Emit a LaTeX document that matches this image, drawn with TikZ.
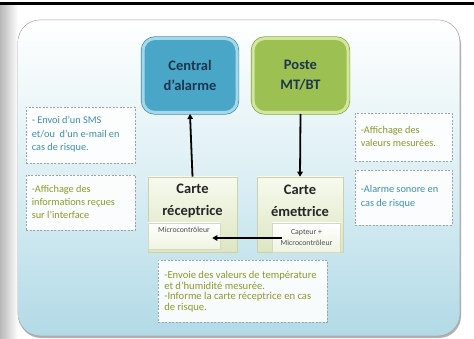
\documentclass[tikz,border=0pt]{standalone}
\usepackage{fontspec}
\setmainfont{Carlito}
\usetikzlibrary{arrows.meta}
\definecolor{panelblue}{HTML}{B2DAE6}
\definecolor{panelmid}{HTML}{DCEFF4}
\definecolor{cenfill}{HTML}{4AA6C6}
\definecolor{cenring}{HTML}{A4D8E8}
\definecolor{cenout}{HTML}{3A8DAE}
\definecolor{posfill}{HTML}{9CC152}
\definecolor{posring}{HTML}{D2E69E}
\definecolor{posout}{HTML}{80A23E}
\definecolor{navy}{HTML}{1E3550}
\definecolor{tealtext}{HTML}{3E8DB3}
\definecolor{olivetext}{HTML}{8A9A2A}
\definecolor{cardtop}{HTML}{F7FAEE}
\definecolor{cardbot}{HTML}{DCE6C2}
\definecolor{cardline}{HTML}{C9D2AC}
\definecolor{dashgray}{HTML}{9AA4AE}
\tikzset{
  topbox/.style={rounded corners=12pt, minimum width=#1, minimum height=74pt, inner sep=0pt,
    align=center, font=\bfseries\fontsize{14.5}{20}\selectfont, text=navy},
  cardbox/.style={draw=cardline, line width=0.6pt, top color=cardtop, bottom color=cardbot,
    minimum width=#1, minimum height=75pt, inner sep=0pt},
  cardtitle/.style={align=center, font=\bfseries\fontsize{14.5}{22}\selectfont, text=black!85, inner sep=0pt},
  subbox/.style={draw=cardline!80, line width=0.5pt, top color=white, bottom color=cardtop!70!cardbot,
    inner sep=0pt, align=center, text=black!70, font=\fontsize{7.8}{11}\selectfont},
  notebox/.style={draw=dashgray, dashed, dash pattern=on 2pt off 1.5pt, line width=0.6pt,
    fill=white, fill opacity=0.9, text opacity=1, align=left, inner sep=0pt, anchor=north west},
  arr/.style={line width=1.8pt, -{Triangle[length=5pt,width=5.5pt]}},
}
\begin{document}
\begin{tikzpicture}[x=1pt,y=-1pt]
\useasboundingbox (0,0) rectangle (474,339);
\fill[white] (0,0) rectangle (474,339);
% left gray fade
\shade[left color=black!28, right color=white] (0,6) rectangle (18,339);
% top black line
\draw[line width=3pt] (0,4) -- (474,4);
% panel shadow and panel
\fill[black!30, rounded corners=22pt] (19,23) rectangle (461,338);
\draw[black!35, line width=0.6pt, rounded corners=22pt] (18,20) rectangle (460,336);
\shade[rounded corners=22pt, top color=white, bottom color=panelblue, middle color=panelmid]
  (18.4,20.4) rectangle (459.6,335.6);

% top boxes
\node[topbox=94pt, fill=cenfill, draw=cenring, line width=3pt,
  preaction={draw=cenout, line width=4.4pt}] (central) at (190,75.5) {Central\\d'alarme};
\node[topbox=95pt, fill=posfill, draw=posring, line width=3pt,
  preaction={draw=posout, line width=4.4pt}] (poste) at (300.5,75.5) {Poste\\MT/BT};

% cards
\node[cardbox=89pt] (recep) at (192.5,214.5) {};
\node[cardtitle] (receptitle) at (192.5,201) {Carte\\réceptrice};
\node[subbox, minimum width=72pt, minimum height=26pt, text depth=12pt] (micro) at (184,236) {Microcontrôleur};

\node[cardbox=86pt] (emet) at (300,214.5) {};
\node[cardtitle] (emettitle) at (300,201) {Carte\\émettrice};
\node[subbox, minimum width=68pt, minimum height=29pt] (capt) at (306.5,237.5) {Capteur +\\Microcontrôleur};

% arrows
\draw[arr] (recep.north) -- (central.south);
\draw[arr] (poste.south) -- (emet.north);
\draw[arr, shorten <=-10pt, shorten >=-8pt] (capt.west |- 0,238) coordinate (ca) -- (micro.east |- 0,238) coordinate (mi);

% note boxes
\node[notebox, minimum width=109pt, minimum height=56pt, text=tealtext] (n1) at (26,107)
  {\hspace{4pt}\parbox[t]{102pt}{\fontsize{10.3}{13.3}\selectfont\vspace{-2pt}- Envoi d'un SMS\\et/ou\ \ d'un e-mail en\\cas de risque.}};
\node[notebox, minimum width=109pt, minimum height=55pt, text=olivetext] (n2) at (26,175)
  {\hspace{4pt}\parbox[t]{102pt}{\fontsize{10.3}{13.3}\selectfont\vspace{-2pt}-Affichage des\\informations reçues\\sur l'interface}};
\node[notebox, minimum width=97pt, minimum height=48pt, text=olivetext] (n3) at (355,113)
  {\hspace{4pt}\parbox[t]{90pt}{\fontsize{10.3}{13.3}\selectfont\vspace{-2pt}-Affichage des\\valeurs mesurées.}};
\node[notebox, minimum width=97pt, minimum height=55pt, text=tealtext] (n4) at (355,170)
  {\hspace{4pt}\parbox[t]{90pt}{\fontsize{10.3}{13.3}\selectfont\vspace{-2pt}-Alarme sonore en\\cas de risque}};
\node[notebox, minimum width=169pt, minimum height=62pt, text=olivetext] (n5) at (158,260)
  {\hspace{5pt}\parbox[t]{162pt}{\fontsize{10.6}{10.7}\selectfont\vspace{1pt}-Envoie des valeurs de température\\et d'humidité mesurée.\\-Informe la carte réceptrice en cas\\de risque.}};
\end{tikzpicture}
\end{document}
